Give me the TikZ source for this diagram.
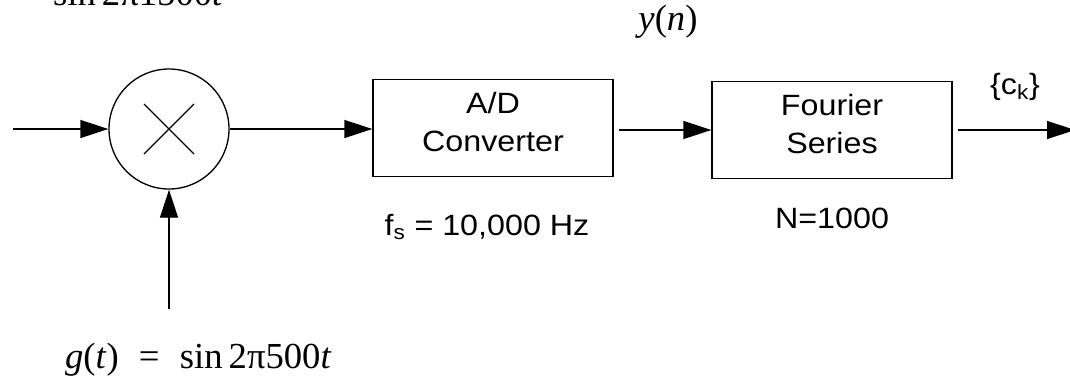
\documentclass[tikz,border=0pt]{standalone}
\usepackage{fontspec}
\setmainfont{Liberation Serif}
\setsansfont[FakeStretch=1.1]{Liberation Sans}
\usepackage{tikz}
\usetikzlibrary{arrows.meta}
\tikzset{
  main block/.style={rectangle,draw,minimum width=180pt,minimum height=72.75pt,inner sep=0pt,align=center,font=\sffamily\fontsize{22}{28.5}\selectfont,
	execute at end node={\rule[-8.5pt]{0pt}{0pt}}},
  mixer node/.style={circle,draw,minimum size=90pt,inner sep=0pt},
  sans label/.style={font=\sffamily\fontsize{22}{26}\selectfont},
  serif label/.style={font=\fontsize{27.5}{32}\selectfont}
}

\begin{document}
\begin{tikzpicture}[x=0.75pt,y=-0.75pt,line width=1pt,
		    ->,>={Triangle[length=21pt,width=13.5pt]}
				]
		    \useasboundingbox (0,0) rectangle (1070,375);
		    \node [mixer node] (mix) at (169,129) {};
		    \draw [-] (mix.center) ++(-25,-25) -- ++(50,50);
		    \draw [-] (mix.center) ++(-25,25) -- ++(50,-50);
		    \node [main block] (adc) at (493,128) {A/D\\Converter};
		    \node [main block] (fser) at (832,130) {Fourier\\Series};
		    % free ends
		    \coordinate (src) at (13,129);
		    \coordinate (gsrc) at (169,309);
		    \coordinate (sink) at (1075,130);
		    \draw (src) -- (mix.west);
		    \draw (gsrc) -- (mix.south);
		    \draw (mix.east) -- (mix.east -| adc.west);
		    \draw [shorten <=3.75pt] (adc.east |- fser.west) -- (fser.west);
		    \draw [shorten <=3.75pt] (fser.east) -- (sink);
		    % labels
		    \node [serif label] (yn) at (668,22) {\textit{y}(\textit{n})};
		    \node [sans label] (ck) at (1015,87) {\{c\textsubscript{k}\}};
		    \node [sans label,anchor=base] (fslab) at (487,235) {f\textsubscript{s} = 10,000 Hz};
		    \node [sans label,anchor=base] (nlab) at (832,228) {N=1000};
		    \node [serif label,anchor=base west] (glab) at (60,368) {\textit{g}(\textit{t})\hspace{0.55em}=\hspace{0.55em}sin\,2π500\textit{t}};
		    \node [serif label,anchor=base west] (toplab) at (48,5) {sin\,2π1500\textit{t}};
		  \end{tikzpicture}
\end{document}
